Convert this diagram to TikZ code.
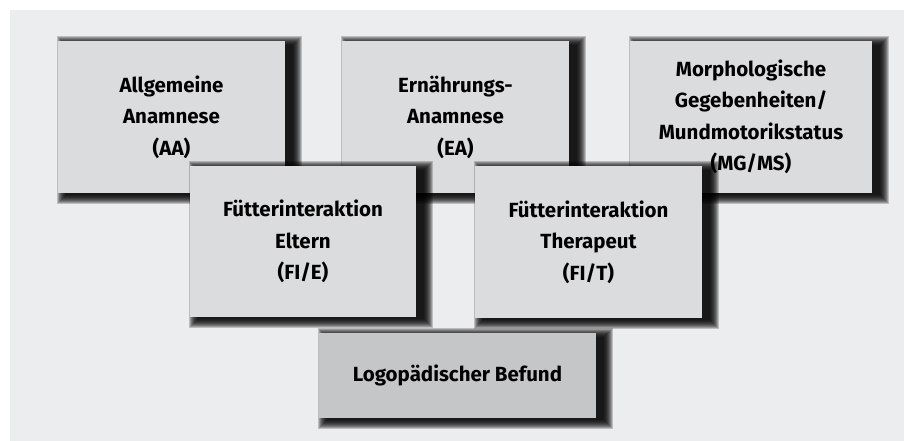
\documentclass[tikz,border=0pt]{standalone}
\usepackage{fontspec}
\setsansfont{Fira Sans}
\definecolor{grund}{RGB}{236,237,239}
\definecolor{feldgrau}{RGB}{219,220,222}
\definecolor{befundgrau}{RGB}{197,198,200}
\tikzset{
  feld/.style={fill=feldgrau, minimum width=227pt, minimum height=152pt,
    inner sep=0pt, align=center,
    font=\sffamily\bfseries\fontsize{20.5}{31.5}\selectfont},
}
% weicher Schatten: Mitte (#1,#2), Breite #3, Hoehe #4
\newcommand{\schatten}[4]{%
  \foreach \r in {0,...,9}
    \fill[black, opacity=0.2]
      (#1-#3/2+8-\r, #2-#4/2+4-\r) rectangle (#1+#3/2+8+\r, #2+#4/2+2+\r);
}
\begin{document}
\begin{tikzpicture}[x=1pt,y=-1pt]
\useasboundingbox (0,0) rectangle (904,441);
\fill[grund] (10,10) rectangle (904,441);

% obere Reihe
\schatten{171.5}{117}{227}{152}
\node[feld] (AA) at (171.5,117) {Allgemeine\\Anamnese\\(AA)};
\schatten{455.5}{117}{227}{152}
\node[feld] (EA) at (455.5,117) {Ernährungs-\\Anamnese\\(EA)};
\schatten{751}{117}{242}{152}
\node[feld, minimum width=242pt] (MG) at (751,117) {Morphologische\\Gegebenheiten/\\Mundmotorikstatus\\(MG/MS)};

% mittlere Reihe
\schatten{303}{241.5}{226}{151}
\node[feld, minimum width=226pt, minimum height=151pt] (FIE) at (303,241.5) {Fütterinteraktion\\Eltern\\(FI/E)};
\schatten{588.5}{242}{227}{152}
\node[feld] (FIT) at (588.5,242) {Fütterinteraktion\\Therapeut\\(FI/T)};

% Befund
\schatten{457.5}{375.5}{277}{85}
\node[feld, fill=befundgrau, minimum width=277pt, minimum height=85pt] (LB) at (457.5,375.5) {Logopädischer Befund};
\end{tikzpicture}
\end{document}
